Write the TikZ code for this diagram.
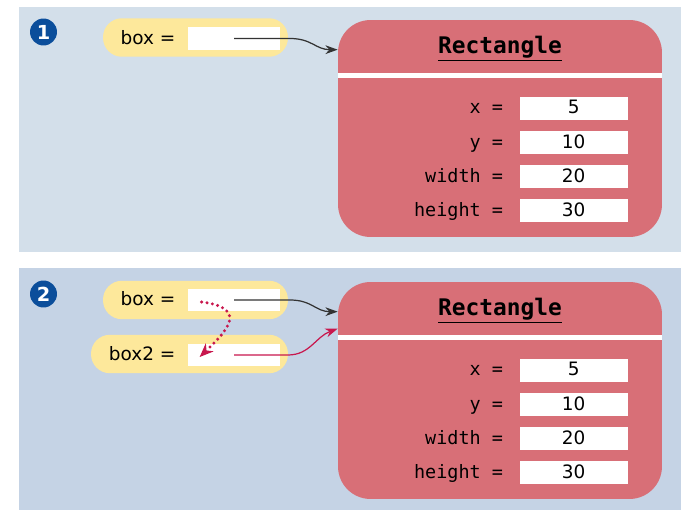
\documentclass[tikz,border=0pt]{standalone}
\usepackage{fontspec}
\setmainfont{DejaVu Sans}
\setmonofont{DejaVu Sans Mono}
\usetikzlibrary{arrows.meta, positioning, calc}

\definecolor{panelA}{HTML}{D3DFEA}
\definecolor{panelB}{HTML}{C5D3E5}
\definecolor{pillyellow}{HTML}{FDE89B}
\definecolor{objred}{HTML}{D86F77}
\definecolor{stepblue}{HTML}{0B4E9B}
\definecolor{ptrred}{HTML}{C8174D}

\tikzset{
    numdot/.style = {circle, fill=stepblue, text=white, font=\bfseries\fontsize{11}{12}\selectfont, inner sep=0pt, minimum size=5.4mm},
    varpill/.style = {fill=pillyellow, rounded corners=3.8mm, inner sep=0pt, minimum height=7.7mm},
    refbox/.style = {fill=white, inner sep=0pt, minimum width=18.4mm, minimum height=4.6mm},
    varname/.style = {inner sep=0pt, text height=1.6ex, text depth=0.4ex},
    objbox/.style = {fill=objred, rounded corners=6.5mm, inner sep=0pt, minimum width=64.8mm, minimum height=43.4mm},
    classname/.style = {inner sep=0pt, font=\ttfamily\bfseries\fontsize{13}{15}\selectfont},
    valbox/.style = {fill=white, inner sep=0pt, minimum width=21.6mm, minimum height=4.6mm, text height=1.6ex, text depth=0.4ex},
    fieldname/.style = {inner sep=0pt, font=\ttfamily\fontsize{10.5}{12}\selectfont, text height=1.6ex, text depth=0.4ex},
    ptr/.style = {draw=black!80, line width=0.7pt, -{Stealth[length=7pt, width=5pt]}},
    copyarrow/.style = {draw=ptrred, line width=1.9pt, line cap=round, dash pattern=on 0pt off 3.1pt, -{Stealth[length=8pt, width=6.5pt, line width=0pt]}}
}

\begin{document}
\begin{tikzpicture}[x=0.02cm, y=-0.02cm, every node/.style = {font=\fontsize{10.5}{12}\selectfont}]
    \useasboundingbox (0,0) rectangle (681,510);
    \fill[panelA] (19,7) rectangle (681,252);
    \fill[panelB] (19,268) rectangle (681,510);

    % step 1
    \node[numdot] (step1) at (43.5,32) {1};

    \node[varpill, minimum width=37mm] (var1) at (195.5,37.5) {};
    \node[refbox] (ref1) at (234,38.5) {};
    \node[varname, left = 2.4mm of ref1] (name1) {box =};

    \node[objbox] (obj1) at (500,128.5) {};
    \draw[white, line width=1mm] ($(obj1.north west)+(0,55.5)$) -- ($(obj1.north east)+(0,55.5)$);
    \node[classname] (title1) at ($(obj1.north)+(0,29)$) {\underline{Rectangle}};

    \node[valbox] (xa) at ($(obj1.north west)+(236,88.5)$) {5};
    \node[fieldname, left = 3.2mm of xa] {x =};
    \node[valbox, below = 2.1mm of xa] (ya) {10};
    \node[fieldname, left = 3.2mm of ya] {y =};
    \node[valbox, below = 2.1mm of ya] (wa) {20};
    \node[fieldname, left = 3.2mm of wa] {width =};
    \node[valbox, below = 2.1mm of wa] (ha) {30};
    \node[fieldname, left = 3.2mm of ha] {height =};

    \coordinate (tip1) at ($(obj1.north west)+(0,30)$);
    \draw[ptr] (ref1.center) -- ++(56,0) .. controls +(22,0) and +(-22,0) .. (tip1);

    % step 2
    \node[numdot] (step2) at (43.5,294) {2};

    \node[varpill, minimum width=37mm] (var2) at (195.5,300) {};
    \node[refbox] (ref2) at (234,300) {};
    \node[varname, left = 2.4mm of ref2] (name2) {box =};

    \node[varpill, minimum width=39.4mm] (var3) at (189.5,354) {};
    \node[refbox] (ref3) at (234,355) {};
    \node[varname, left = 2.4mm of ref3] (name3) {box2 =};

    \node[objbox] (obj2) at (500,390.5) {};
    \draw[white, line width=1mm] ($(obj2.north west)+(0,55.5)$) -- ($(obj2.north east)+(0,55.5)$);
    \node[classname] (title2) at ($(obj2.north)+(0,29)$) {\underline{Rectangle}};

    \node[valbox] (xb) at ($(obj2.north west)+(236,88.5)$) {5};
    \node[fieldname, left = 3.2mm of xb] {x =};
    \node[valbox, below = 2.1mm of xb] (yb) {10};
    \node[fieldname, left = 3.2mm of yb] {y =};
    \node[valbox, below = 2.1mm of yb] (wb) {20};
    \node[fieldname, left = 3.2mm of wb] {width =};
    \node[valbox, below = 2.1mm of wb] (hb) {30};
    \node[fieldname, left = 3.2mm of hb] {height =};

    \coordinate (tip2) at ($(obj2.north west)+(0,30)$);
    \coordinate (tip3) at ($(obj2.north west)+(0,47)$);
    \coordinate (copyfrom) at ($(ref2.west)+(14,2)$);
    \coordinate (copyto) at ($(ref3.west)+(12,2)$);

    \draw[ptr] (ref2.center) -- ++(56,0) .. controls +(22,0) and +(-22,0) .. (tip2);
    \draw[ptr, draw=ptrred, -{Stealth[length=7pt, width=5pt, fill=ptrred]}, ptrred] (ref3.center) -- ++(54,0) .. controls +(22,0) and +(-22,8) .. (tip3);
    \draw[copyarrow] (copyfrom) .. controls +(48,6) and +(26,-25) .. (copyto);
\end{tikzpicture}
\end{document}
